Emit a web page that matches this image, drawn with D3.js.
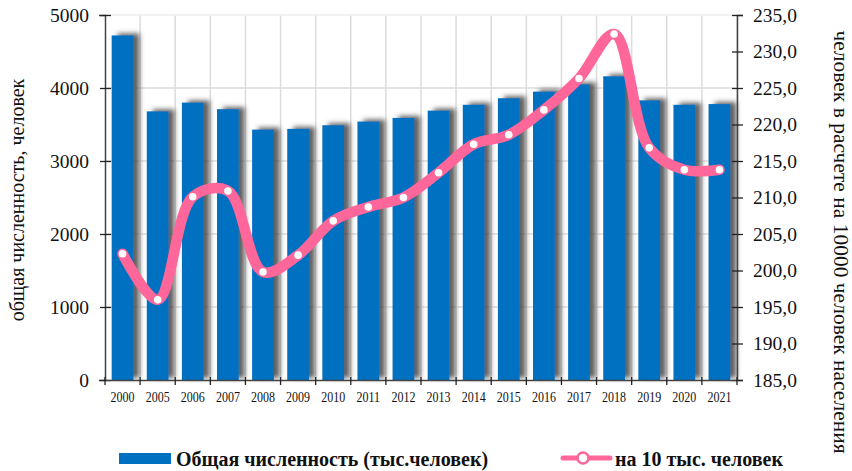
<!DOCTYPE html>
<html lang="ru">
<head>
<meta charset="UTF-8">
<title>Численность</title>
<script src="https://d3js.org/d3.v7.min.js"></script>
<style>
  body { margin: 0; background: #fff; }
  svg text { font-family: "Liberation Serif", serif; fill: #111; }
</style>
</head>
<body>
<svg id="chart" width="852" height="471"></svg>
<script>
  // data
  var years = ["2000","2005","2006","2007","2008","2009","2010","2011","2012","2013","2014","2015","2016","2017","2018","2019","2020","2021"];
  var total = [4720,3680,3800,3710,3430,3440,3490,3540,3590,3690,3770,3860,3950,4050,4160,3830,3770,3780];
  var per10k = [202.3,196.0,210.1,210.9,199.8,202.1,206.8,208.7,210.0,213.4,217.3,218.6,222.0,226.3,232.4,216.8,213.8,213.8];
  var leftTicks = [0,1000,2000,3000,4000,5000];
  var rightTicks = [185,190,195,200,205,210,215,220,225,230,235];

  var serif = "'Liberation Serif', 'Times New Roman', serif";
  var svg = d3.select("#chart");
  var mLeft = 105, mRight = 737, mTop = 15, mBottom = 380;

  var x = d3.scaleBand().domain(years).range([mLeft, mRight]).paddingInner(0.38).paddingOuter(0.19);
  var xb = d3.scaleBand().domain(years).range([mLeft, mRight]);
  var yL = d3.scaleLinear().domain([0, 5000]).range([mBottom, mTop]);
  var yR = d3.scaleLinear().domain([185, 235]).range([mBottom, mTop]);

  // shadow for bars
  var defs = svg.append("defs");
  var f = defs.append("filter").attr("id", "sh").attr("x", "-20%").attr("y", "-10%").attr("width", "170%").attr("height", "120%");
  f.append("feDropShadow").attr("dx", 6).attr("dy", -2).attr("stdDeviation", 2.5)
    .attr("flood-color", "#444").attr("flood-opacity", 0.85);

  // grid
  var grid = svg.append("g");
  grid.selectAll("line.v").data(d3.range(1, years.length + 1)).enter().append("line")
    .attr("x1", function(i) { return mLeft + i * xb.bandwidth(); })
    .attr("x2", function(i) { return mLeft + i * xb.bandwidth(); })
    .attr("y1", mTop).attr("y2", mBottom)
    .attr("stroke", "#dcdcdc").attr("stroke-width", 1.5);
  grid.selectAll("line.h").data(leftTicks.slice(1)).enter().append("line")
    .attr("x1", mLeft).attr("x2", mRight)
    .attr("y1", function(d) { return yL(d); }).attr("y2", function(d) { return yL(d); })
    .attr("stroke", function(d) { return d === 5000 ? "#eeeeee" : "#dcdcdc"; })
    .attr("stroke-width", 1.5);

  // bars
  svg.append("g").selectAll("rect").data(total).enter().append("rect")
    .attr("x", function(d, i) { return x(years[i]); })
    .attr("width", x.bandwidth())
    .attr("y", function(d) { return yL(d); })
    .attr("height", function(d) { return mBottom - yL(d); })
    .attr("fill", "#0070c0")
    .attr("filter", "url(#sh)");

  // axes
  var axL = svg.append("g").attr("transform", "translate(" + mLeft + ",0)")
    .call(d3.axisLeft(yL).tickValues(leftTicks).tickSize(6).tickFormat(d3.format("d")));
  var axR = svg.append("g").attr("transform", "translate(" + mRight + ",0)")
    .call(d3.axisRight(yR).tickValues(rightTicks).tickSize(6).tickFormat(function(d) { return d.toFixed(1).replace(".", ","); }));
  var axB = svg.append("g").attr("transform", "translate(0," + mBottom + ")")
    .call(d3.axisBottom(xb).tickSize(0).tickPadding(11));

  [axL, axR, axB].forEach(function(a) { a.attr("font-family", serif); });
  [axL, axR].forEach(function(a) {
    a.select(".domain").attr("stroke", "#444").attr("stroke-width", 1.5);
    a.selectAll(".tick line").attr("x1", -5).attr("x2", 6).attr("stroke", "#222").attr("stroke-width", 1.3);
    a.selectAll(".tick text").style("font-size", "19.5px").style("font-family", serif).attr("fill", "#111");
  });
  axL.selectAll(".tick text").attr("x", -16);
  axR.selectAll(".tick text").attr("x", 16);
  axB.select(".domain").attr("stroke", "#444").attr("stroke-width", 1.5);
  axB.selectAll(".tick text").style("font-size", "15px").style("font-family", serif)
    .attr("fill", "#111").attr("transform", "scale(0.8,1)");
  // tick marks at band boundaries on x axis
  axB.selectAll("line.bt").data(d3.range(years.length + 1)).enter().append("line")
    .attr("class", "bt")
    .attr("x1", function(i) { return mLeft + i * xb.bandwidth(); })
    .attr("x2", function(i) { return mLeft + i * xb.bandwidth(); })
    .attr("y1", -3).attr("y2", 5).attr("stroke", "#222").attr("stroke-width", 1.3);

  // line
  var pts = per10k.map(function(v, i) { return [xb(years[i]) + xb.bandwidth() / 2, yR(v)]; });
  svg.append("path")
    .attr("d", d3.line().curve(d3.curveCatmullRom.alpha(0.5))(pts))
    .attr("fill", "none").attr("stroke", "#ff6699").attr("stroke-width", 10.5)
    .attr("stroke-linecap", "round").attr("stroke-linejoin", "round");
  svg.append("g").selectAll("circle").data(pts).enter().append("circle")
    .attr("cx", function(d) { return d[0]; }).attr("cy", function(d) { return d[1]; })
    .attr("r", 3.8).attr("fill", "#fff");

  // axis titles
  svg.append("text").attr("transform", "translate(24,200) rotate(-90)")
    .attr("text-anchor", "middle").style("font-size", "20px").style("font-family", serif)
    .text("общая численность,  человек");
  svg.append("text").attr("transform", "translate(834,242) rotate(90)")
    .attr("text-anchor", "middle").style("font-size", "21.5px").style("font-family", serif)
    .text("человек в расчете на 10000 человек населения");

  // legend
  svg.append("rect").attr("x", 119).attr("y", 453).attr("width", 52).attr("height", 11).attr("fill", "#0070c0");
  svg.append("text").attr("x", 176).attr("y", 466).style("font-size", "20px").style("font-weight", "bold")
    .style("font-family", serif).text("Общая численность (тыс.человек)");
  svg.append("line").attr("x1", 563).attr("x2", 610).attr("y1", 458).attr("y2", 458)
    .attr("stroke", "#ff6699").attr("stroke-width", 5).attr("stroke-linecap", "round");
  svg.append("circle").attr("cx", 583).attr("cy", 458).attr("r", 5.5).attr("fill", "#fff")
    .attr("stroke", "#ff6699").attr("stroke-width", 2.5);
  svg.append("text").attr("x", 615).attr("y", 466).style("font-size", "20px").style("font-weight", "bold")
    .style("font-family", serif).text("на 10 тыс. человек");
</script>
</body>
</html>
